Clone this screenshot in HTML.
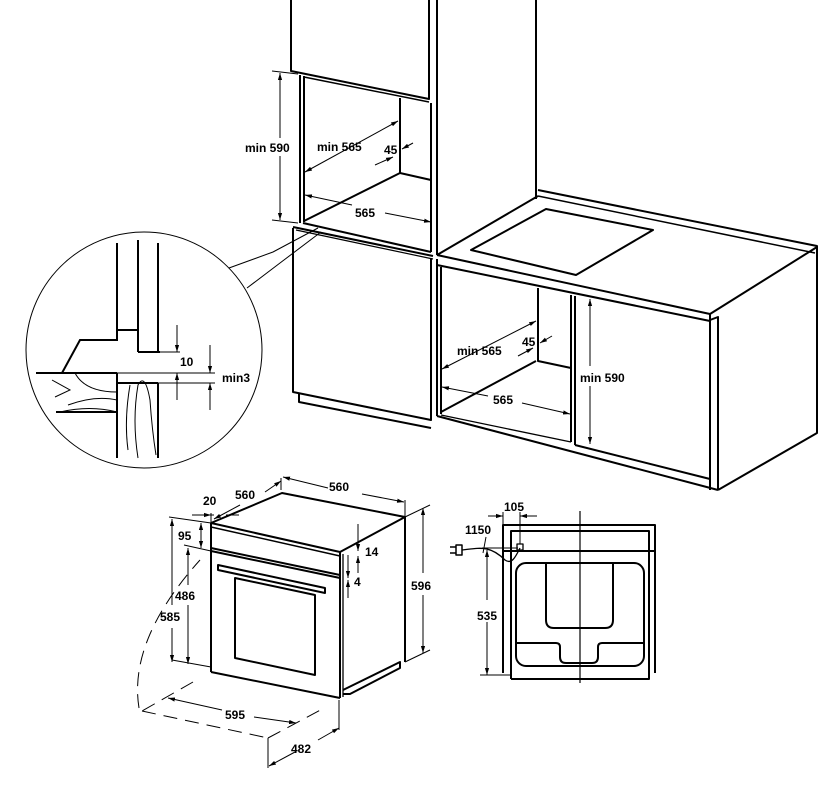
<!DOCTYPE html>
<html><head><meta charset="utf-8"><style>
html,body{margin:0;padding:0;background:#fff;}
svg{display:block;}
text{font-family:"Liberation Sans",sans-serif;font-weight:bold;font-size:12px;fill:#000;}
</style></head><body>
<svg width="834" height="804" viewBox="0 0 834 804" xmlns="http://www.w3.org/2000/svg">
<defs>
<marker id="a" viewBox="0 0 10 10" refX="10" refY="5" markerWidth="7" markerHeight="7" orient="auto-start-reverse"><path d="M0,2 L10,5 L0,8 z" fill="#000"/></marker>
</defs>
<g fill="none" stroke="#000" stroke-width="2" stroke-linejoin="round">
<!-- tall cabinet -->
<polyline points="291,0 291,71 429,99 429,0"/>
<line x1="437" y1="0" x2="437" y2="255"/>
<line x1="536" y1="0" x2="536" y2="199"/>
<line x1="431" y1="103" x2="431" y2="252"/>
<line x1="300" y1="75" x2="300" y2="223"/>
<line x1="304" y1="76" x2="304" y2="222"/>
<line x1="304" y1="77" x2="429" y2="102" stroke-width="1.5"/>
<polyline points="400,98 400,173 431,180"/>
<line x1="304" y1="221" x2="400" y2="173"/>
<line x1="303" y1="223" x2="431" y2="252"/>
<polyline points="293,228 293,392 431,420 431,258"/>
<line x1="293" y1="227" x2="433" y2="256"/>
<line x1="296" y1="230" x2="433" y2="259" stroke-width="1.2"/>
<polyline points="299,394 299,402 431,428"/>
<!-- base cabinet with hob -->
<polyline points="538,190 817,246 817,433 718,490"/>
<line x1="538" y1="196" x2="815" y2="253" stroke-width="1.5"/>
<line x1="437" y1="255" x2="538" y2="196"/>
<line x1="437" y1="255" x2="710" y2="314"/>
<line x1="710" y1="314" x2="817" y2="247"/>
<line x1="437" y1="265" x2="710" y2="321"/>
<line x1="710" y1="314" x2="710" y2="490"/>
<polyline points="710,320 718,317 718,490"/>
<polygon points="471,250 546,209 653,230 576,275"/>
<line x1="437" y1="259" x2="437" y2="416"/>
<line x1="441" y1="267" x2="441" y2="414"/>
<line x1="437" y1="416" x2="718" y2="490"/>
<line x1="441" y1="415" x2="571" y2="442" stroke-width="1.3"/>
<polyline points="538,288 538,361 571,368"/>
<line x1="441" y1="412" x2="536" y2="361"/>
<line x1="571" y1="295" x2="571" y2="442"/>
<line x1="575" y1="296" x2="575" y2="445"/>
<line x1="575" y1="445" x2="710" y2="479"/>
<!-- oven -->
<polygon points="211,523 282,493 405,517 340,552"/>
<line x1="211" y1="527" x2="340" y2="556" stroke-width="1.5"/>
<line x1="211" y1="523" x2="211" y2="672"/>
<line x1="211" y1="548" x2="340" y2="575"/>
<line x1="211" y1="551" x2="340" y2="578"/>
<line x1="211" y1="672" x2="340" y2="698"/>
<line x1="340" y1="552" x2="340" y2="698"/>
<line x1="343" y1="554" x2="343" y2="697" stroke-width="1.3"/>
<line x1="405" y1="517" x2="405" y2="662"/>
<polyline points="343,690 400,662 400,668 350,694 343,694"/>
<polygon points="218,565 325,588 325,593 218,570"/>
<polygon points="235,578 315,595 315,675 235,658"/>
<!-- back view -->
<polyline points="503,673 503,525 655,525 655,673"/>
<polyline points="511,679 511,531 649,531 649,679 511,679"/>
<line x1="503" y1="551" x2="655" y2="551"/>
<rect x="516" y="563" width="128" height="103" rx="10"/>
<path d="M546,563 V620 Q546,628 554,628 H605 Q613,628 613,620 V563"/>
<path d="M517,643 H556 Q560,643 560,647 V657 Q560,663 566,663 H592 Q598,663 598,657 V647 Q598,643 602,643 H644"/>
<rect x="517" y="544" width="6" height="6" stroke-width="1.3"/>
<path d="M462,550 C480,548 490,545 505,560 C512,565 516,556 520,548" stroke-width="1.3"/>
<path d="M450,547 h6 M450,553 h6 M456,545 v10 h6 v-10 z" stroke-width="1.5"/>
</g>
<g fill="none" stroke="#000" stroke-width="1">
<!-- circle detail -->
<circle cx="144" cy="350" r="118"/>
<polyline points="229,268 273,252 318,228"/>
<polyline points="247,288 280,263 321,232"/>
<g stroke-width="2">
<line x1="117" y1="243" x2="117" y2="330"/>
<line x1="138" y1="240" x2="138" y2="352"/>
<line x1="158" y1="243" x2="158" y2="352"/>
<polyline points="117,330 137,330"/>
<line x1="138" y1="352" x2="160" y2="352"/>
<polyline points="117,330 117,340 80,340 62,373"/>
<line x1="36" y1="373" x2="117" y2="373"/>
<line x1="117" y1="373" x2="117" y2="458"/>
<line x1="117" y1="383" x2="158" y2="383"/>
<line x1="158" y1="383" x2="158" y2="458"/>
<line x1="56" y1="412" x2="117" y2="412"/>
</g>
<path d="M75,373 Q85,392 117,392"/>
<path d="M52,380 L70,390 L55,397"/>
<path d="M68,405 Q95,395 117,400"/>
<path d="M60,412 Q90,405 117,412"/>
<path d="M138,458 Q132,420 138,385 Q145,372 150,400 Q152,430 156,455"/>
<path d="M128,450 Q124,420 130,385"/>
<line x1="117" y1="373" x2="215" y2="373"/>
<line x1="117" y1="383" x2="215" y2="383"/>
<line x1="158" y1="352" x2="180" y2="352"/>
<line x1="177" y1="325" x2="177" y2="352" marker-end="url(#a)"/>
<line x1="177" y1="400" x2="177" y2="373" marker-end="url(#a)"/>
<line x1="210" y1="345" x2="210" y2="373" marker-end="url(#a)"/>
<line x1="210" y1="410" x2="210" y2="383" marker-end="url(#a)"/>
<!-- upper niche dims -->
<line x1="272" y1="71" x2="298" y2="74"/>
<line x1="272" y1="220" x2="298" y2="223"/>
<line x1="280" y1="73" x2="280" y2="138" marker-start="url(#a)"/>
<line x1="280" y1="156" x2="280" y2="220" marker-end="url(#a)"/>
<line x1="305" y1="172" x2="398" y2="121" marker-start="url(#a)" marker-end="url(#a)"/>
<line x1="375" y1="165" x2="393" y2="157" marker-end="url(#a)"/>
<line x1="413" y1="143" x2="402" y2="149" marker-end="url(#a)"/>
<line x1="305" y1="195" x2="352" y2="205" marker-start="url(#a)"/>
<line x1="385" y1="213" x2="431" y2="222" marker-end="url(#a)"/>
<!-- lower niche dims -->
<line x1="442" y1="369" x2="536" y2="321" marker-start="url(#a)" marker-end="url(#a)"/>
<line x1="518" y1="356" x2="533" y2="348" marker-end="url(#a)"/>
<line x1="552" y1="336" x2="540" y2="343" marker-end="url(#a)"/>
<line x1="442" y1="387" x2="488" y2="396" marker-start="url(#a)"/>
<line x1="522" y1="403" x2="570" y2="414" marker-end="url(#a)"/>
<line x1="590" y1="299" x2="590" y2="366" marker-start="url(#a)"/>
<line x1="590" y1="386" x2="590" y2="444" marker-end="url(#a)"/>
<!-- oven dims -->
<line x1="211" y1="513" x2="211" y2="522"/>
<line x1="281" y1="490" x2="281" y2="478"/>
<line x1="405" y1="516" x2="405" y2="500"/>
<line x1="214" y1="519" x2="240" y2="505" marker-start="url(#a)"/>
<line x1="265" y1="492" x2="281" y2="481" marker-end="url(#a)"/>
<line x1="283" y1="477" x2="328" y2="488" marker-start="url(#a)"/>
<line x1="362" y1="494" x2="404" y2="502" marker-end="url(#a)"/>
<line x1="192" y1="515" x2="211" y2="515" marker-end="url(#a)"/>
<line x1="226" y1="515" x2="239" y2="515"/>
<line x1="214" y1="515" x2="208" y2="515"/>
<line x1="169" y1="517" x2="211" y2="523"/>
<line x1="184" y1="545" x2="211" y2="551"/>
<line x1="172" y1="660" x2="211" y2="667"/>
<line x1="172" y1="519" x2="172" y2="605" marker-start="url(#a)"/>
<line x1="172" y1="628" x2="172" y2="662" marker-end="url(#a)"/>
<line x1="188" y1="548" x2="188" y2="585" marker-start="url(#a)"/>
<line x1="188" y1="605" x2="188" y2="664" marker-end="url(#a)"/>
<line x1="201" y1="523" x2="201" y2="548" marker-start="url(#a)" marker-end="url(#a)"/>
<line x1="358" y1="524" x2="358" y2="551" marker-end="url(#a)"/>
<line x1="358" y1="573" x2="358" y2="556" marker-end="url(#a)"/>
<line x1="348" y1="555" x2="348" y2="578" marker-end="url(#a)"/>
<line x1="348" y1="598" x2="348" y2="580" marker-end="url(#a)"/>
<line x1="405" y1="517" x2="430" y2="505"/>
<line x1="405" y1="662" x2="430" y2="650"/>
<line x1="423" y1="508" x2="423" y2="573" marker-start="url(#a)"/>
<line x1="423" y1="595" x2="423" y2="653" marker-end="url(#a)"/>
<line x1="339" y1="700" x2="339" y2="730"/>
<line x1="268" y1="738" x2="268" y2="768"/>
<line x1="269" y1="766" x2="295" y2="752" marker-start="url(#a)"/>
<line x1="318" y1="740" x2="339" y2="728" marker-end="url(#a)"/>
<line x1="168" y1="698" x2="222" y2="710" marker-start="url(#a)"/>
<line x1="254" y1="717" x2="296" y2="723" marker-end="url(#a)"/>
<g stroke-dasharray="14,8">
<line x1="193" y1="682" x2="142" y2="711"/>
<line x1="142" y1="711" x2="268" y2="738"/>
<line x1="268" y1="738" x2="326" y2="707"/>
<path d="M139,708 Q128,640 200,560"/>
</g>
<!-- back view dims -->
<line x1="580" y1="511" x2="580" y2="683" stroke-width="1.2"/>
<line x1="503" y1="525" x2="503" y2="512"/>
<line x1="520" y1="544" x2="520" y2="512"/>
<line x1="488" y1="516" x2="503" y2="516" marker-end="url(#a)"/>
<line x1="537" y1="516" x2="520" y2="516" marker-end="url(#a)"/>
<line x1="482" y1="548" x2="518" y2="548"/>
<line x1="480" y1="675" x2="511" y2="675"/>
<line x1="487" y1="550" x2="487" y2="600" marker-start="url(#a)"/>
<line x1="487" y1="622" x2="487" y2="675" marker-end="url(#a)"/>
<line x1="483" y1="553" x2="486" y2="537"/>
</g>
<text x="245" y="152">min 590</text>
<text x="317" y="151">min 565</text>
<text x="384" y="154">45</text>
<text x="355" y="217">565</text>
<text x="457" y="355">min 565</text>
<text x="522" y="346">45</text>
<text x="493" y="404">565</text>
<text x="580" y="382">min 590</text>
<text x="180" y="366" font-size="10">10</text>
<text x="222" y="382" font-size="11">min3</text>
<text x="235" y="499">560</text>
<text x="329" y="491">560</text>
<text x="203" y="505">20</text>
<text x="178" y="540">95</text>
<text x="365" y="556" font-weight="normal">14</text>
<text x="354" y="586" font-weight="normal">4</text>
<text x="175" y="600">486</text>
<text x="160" y="621">585</text>
<text x="411" y="590">596</text>
<text x="225" y="719">595</text>
<text x="291" y="753">482</text>
<text x="504" y="511">105</text>
<text x="465" y="534">1150</text>
<text x="477" y="620">535</text>
</svg>
</body></html>
